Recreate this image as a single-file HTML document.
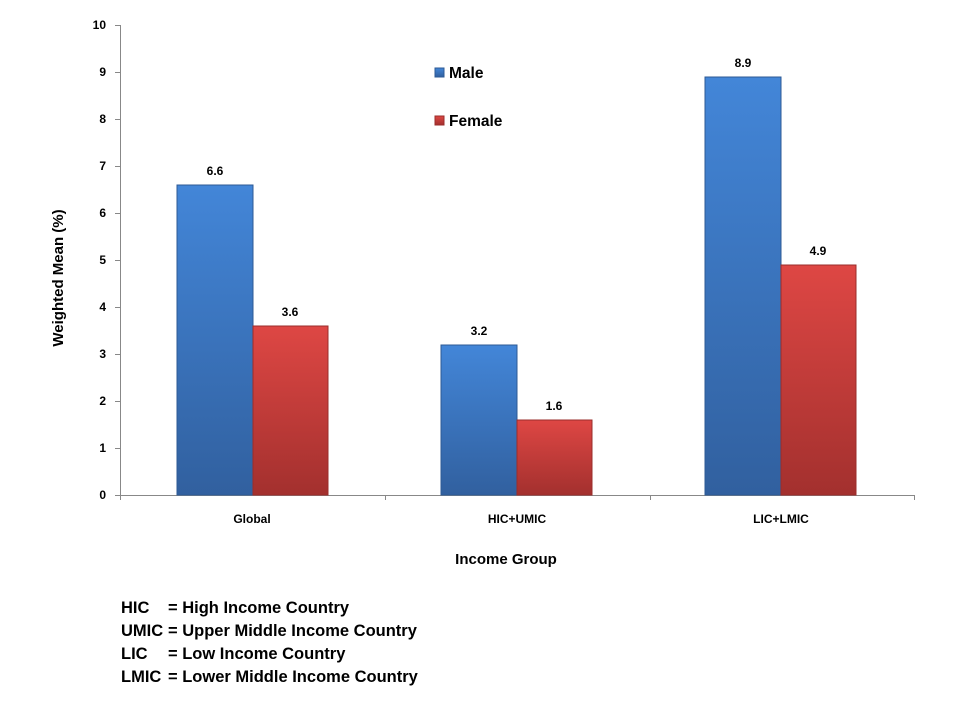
<!DOCTYPE html>
<html><head><meta charset="utf-8"><style>
body{margin:0;background:#fff;}
svg text{font-family:"Liberation Sans",sans-serif;font-weight:bold;fill:#000;}
</style></head><body>
<svg width="960" height="720" viewBox="0 0 960 720" xmlns="http://www.w3.org/2000/svg">
<defs>
<linearGradient id="b" x1="0" y1="0" x2="0" y2="1"><stop offset="0" stop-color="#4386d8"/><stop offset="1" stop-color="#31609f"/></linearGradient>
<linearGradient id="r" x1="0" y1="0" x2="0" y2="1"><stop offset="0" stop-color="#de4744"/><stop offset="1" stop-color="#a3302e"/></linearGradient>
</defs>
<g stroke="#888" stroke-width="1">
<line x1="120.5" y1="25" x2="120.5" y2="495"/>
<line x1="120" y1="495.5" x2="915" y2="495.5"/>
<line x1="115" y1="25.5" x2="120" y2="25.5"/><line x1="115" y1="72.5" x2="120" y2="72.5"/><line x1="115" y1="119.5" x2="120" y2="119.5"/><line x1="115" y1="166.5" x2="120" y2="166.5"/><line x1="115" y1="213.5" x2="120" y2="213.5"/><line x1="115" y1="260.5" x2="120" y2="260.5"/><line x1="115" y1="307.5" x2="120" y2="307.5"/><line x1="115" y1="354.5" x2="120" y2="354.5"/><line x1="115" y1="401.5" x2="120" y2="401.5"/><line x1="115" y1="448.5" x2="120" y2="448.5"/><line x1="115" y1="495.5" x2="120" y2="495.5"/>
<line x1="120.5" y1="495" x2="120.5" y2="500"/><line x1="385.5" y1="495" x2="385.5" y2="500"/><line x1="650.5" y1="495" x2="650.5" y2="500"/><line x1="914.5" y1="495" x2="914.5" y2="500"/>
</g>
<g font-size="12" text-anchor="end">
<text x="106" y="29">10</text><text x="106" y="76">9</text><text x="106" y="123">8</text><text x="106" y="170">7</text><text x="106" y="217">6</text><text x="106" y="264">5</text><text x="106" y="311">4</text><text x="106" y="358">3</text><text x="106" y="405">2</text><text x="106" y="452">1</text><text x="106" y="499">0</text>
</g>
<g stroke-width="1">
<rect x="177" y="185" width="76" height="310" fill="url(#b)" stroke="#2d5a94"/>
<rect x="253" y="326" width="75" height="169" fill="url(#r)" stroke="#9a2d2b"/>
<rect x="441" y="345" width="76" height="150" fill="url(#b)" stroke="#2d5a94"/>
<rect x="517" y="420" width="75" height="75" fill="url(#r)" stroke="#9a2d2b"/>
<rect x="705" y="77" width="76" height="418" fill="url(#b)" stroke="#2d5a94"/>
<rect x="781" y="265" width="75" height="230" fill="url(#r)" stroke="#9a2d2b"/>
</g>
<g font-size="12" text-anchor="middle">
<text x="215" y="175">6.6</text><text x="290" y="316">3.6</text>
<text x="479" y="335">3.2</text><text x="554" y="410">1.6</text>
<text x="743" y="67">8.9</text><text x="818" y="255">4.9</text>
<text x="252" y="523">Global</text><text x="517" y="523">HIC+UMIC</text><text x="781" y="523">LIC+LMIC</text>
</g>
<text x="506" y="564" font-size="15" text-anchor="middle">Income Group</text>
<text transform="translate(63,278) rotate(-90)" font-size="15" text-anchor="middle">Weighted Mean (%)</text>
<rect x="435" y="68" width="9" height="9" fill="url(#b)" stroke="#2d5a94"/>
<text x="449" y="78" font-size="15.5">Male</text>
<rect x="435" y="116" width="9" height="9" fill="url(#r)" stroke="#9a2d2b"/>
<text x="449" y="126" font-size="15.5">Female</text>
<g font-size="16.5">
<text x="121" y="613">HIC</text><text x="168" y="613">= High Income Country</text>
<text x="121" y="636">UMIC</text><text x="168" y="636">= Upper Middle Income Country</text>
<text x="121" y="659">LIC</text><text x="168" y="659">= Low Income Country</text>
<text x="121" y="682">LMIC</text><text x="168" y="682">= Lower Middle Income Country</text>
</g>
</svg>
</body></html>
